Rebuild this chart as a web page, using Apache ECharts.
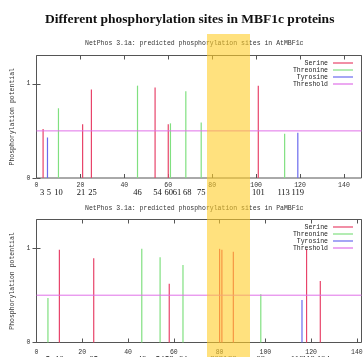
<!DOCTYPE html>
<html>
<head>
<meta charset="utf-8">
<script src="https://cdn.jsdelivr.net/npm/echarts@6/dist/echarts.min.js"></script>
<style>
  html, body { margin: 0; padding: 0; background: #fff; }
  #chart { width: 363px; height: 357px; }
</style>
</head>
<body>
<div id="chart"></div>
<script>
// AtMBF1c sites: [position, potential]
const serineAt = [[3, 0.52], [21, 0.57], [25, 0.94], [54, 0.96], [60, 0.57], [101, 0.98]];
const threonineAt = [[10, 0.74], [46, 0.98], [61, 0.58], [68, 0.92], [75, 0.59], [113, 0.47]];
const tyrosineAt = [[5, 0.43], [119, 0.48]];
// PaMBF1c sites
const serinePa = [[10, 0.98], [25, 0.89], [58, 0.62], [80, 0.99], [81, 0.98], [86, 0.96], [118, 0.99], [124, 0.65]];
const threoninePa = [[5, 0.47], [46, 0.99], [54, 0.90], [64, 0.82], [98, 0.51]];
const tyrosinePa = [[116, 0.45]];

const threshold = 0.5;
const lengthAt = 148;
const lengthPa = 142;
const yTicks = [0, 1];

const sitesOf = (...sets) => sets.flat().map(d => d[0]).sort((a, b) => a - b);
const sitesAt = sitesOf(serineAt, threonineAt, tyrosineAt);
const sitesPa = sitesOf(serinePa, threoninePa, tyrosinePa);

// label nudges in px so that close site numbers stay readable
const nudgeAt = { 3: -1, 5: 1.5, 21: -1.5, 25: 1, 54: 2.5, 60: 0.5, 61: 6.5, 68: 1.5, 113: -1 };
const nudgePa = { 80: -5, 81: 1, 86: -1, 116: -5, 118: 2, 124: 3 };

const chart = echarts.init(document.getElementById('chart'));

const mono = 'Liberation Mono';
const colors = { Serine: '#e8446a', Threonine: '#80e080', Tyrosine: '#6a6aee', Threshold: '#e070e8' };
const small = { fontFamily: mono, fontSize: 6.5, color: '#333' };

const siteLabel = nudges => {
  const rich = {};
  Object.keys(nudges).forEach(v => {
    const dx = nudges[v];
    rich['n' + v] = { padding: dx > 0 ? [0, 0, 0, 2 * dx] : [0, -2 * dx, 0, 0] };
  });
  return {
    rich,
    formatter: v => (nudges[v] !== undefined ? '{n' + v + '|' + v + '}' : String(v))
  };
};

const mainX = (grid, max, margin) => ({
  type: 'value', gridIndex: grid, min: 0, max, interval: 20, position: 'bottom',
  axisLine: { show: false, onZero: false },
  axisTick: { inside: true, length: 4, lineStyle: { color: '#555' } },
  axisLabel: { ...small, margin, showMaxLabel: false },
  splitLine: { show: false }
});
const siteX = (grid, max, sites, margin, nudges) => ({
  type: 'value', gridIndex: grid, min: 0, max, position: 'bottom',
  axisLine: { show: false, onZero: false },
  axisTick: { show: false },
  axisLabel: {
    customValues: sites, margin, fontFamily: 'Liberation Serif', fontSize: 8.5, color: '#111',
    ...siteLabel(nudges)
  },
  splitLine: { show: false }
});
const topX = (grid, max) => ({
  type: 'value', gridIndex: grid, min: 0, max, interval: 20, position: 'top',
  axisLine: { show: false, onZero: false },
  axisTick: { inside: true, length: 4, lineStyle: { color: '#555' } },
  axisLabel: { show: false },
  splitLine: { show: false }
});
const leftY = grid => ({
  type: 'value', gridIndex: grid, min: 0, max: 1.3, position: 'left',
  name: 'Phosphorylation potential', nameLocation: 'middle', nameGap: 19,
  nameTextStyle: { ...small },
  axisLine: { show: false },
  axisTick: { inside: true, length: 4, customValues: yTicks, lineStyle: { color: '#555' } },
  axisLabel: { ...small, margin: 6, customValues: yTicks },
  splitLine: { show: false }
});
const rightY = grid => ({
  type: 'value', gridIndex: grid, min: 0, max: 1.3, position: 'right',
  axisLine: { show: false },
  axisTick: { inside: true, length: 4, customValues: yTicks, lineStyle: { color: '#555' } },
  axisLabel: { show: false },
  splitLine: { show: false }
});

const bars = (name, data, xi, yi) => ({
  name, type: 'bar', data, xAxisIndex: xi, yAxisIndex: yi,
  barWidth: 1.2, barGap: '-100%', color: colors[name],
  itemStyle: { color: colors[name] }
});
const thresholdLine = (length, xi, yi) => ({
  name: 'Threshold', type: 'line', xAxisIndex: xi, yAxisIndex: yi,
  data: [[0, threshold], [length, threshold]],
  color: colors.Threshold, symbol: 'none', z: 3,
  lineStyle: { color: colors.Threshold, width: 1 }
});

const legendOf = top => ({
  orient: 'vertical', right: 10, top, padding: 0, icon: 'rect', itemWidth: 20, itemHeight: 1.2,
  itemGap: 0, align: 'right', selectedMode: false,
  textStyle: { ...small, color: '#222', padding: 0 },
  formatter: name => name.padStart(9, ' '),
  data: ['Serine', 'Threonine', 'Tyrosine', 'Threshold']
});

const option = {
  animation: false,
  backgroundColor: '#fff',
  title: [
    {
      text: 'Different phosphorylation sites in MBF1c proteins', left: 45, top: 13, padding: 0,
      textStyle: { fontFamily: 'Liberation Serif', fontWeight: 'bold', fontSize: 13.5, color: '#111' }
    },
    {
      text: 'NetPhos 3.1a: predicted phosphorylation sites in AtMBF1c', left: 85, top: 40, padding: 0,
      textStyle: { ...small, fontWeight: 'normal' }
    },
    {
      text: 'NetPhos 3.1a: predicted phosphorylation sites in PaMBF1c', left: 85, top: 205, padding: 0,
      textStyle: { ...small, fontWeight: 'normal' }
    }
  ],
  legend: [legendOf(59.5), legendOf(223.5)],
  grid: [
    { left: 36.5, right: 1.5, top: 55.5, height: 122.5, show: true, borderColor: '#555', borderWidth: 1, outerBoundsMode: 'none' },
    { left: 36.5, right: 1.5, top: 219.5, height: 123, show: true, borderColor: '#555', borderWidth: 1, outerBoundsMode: 'none' }
  ],
  xAxis: [
    mainX(0, lengthAt, 4),
    siteX(0, lengthAt, sitesAt, 10, nudgeAt),
    topX(0, lengthAt),
    mainX(1, lengthPa, 6),
    siteX(1, lengthPa, sitesPa, 13, nudgePa),
    topX(1, lengthPa)
  ],
  yAxis: [leftY(0), rightY(0), leftY(1), rightY(1)],
  series: [
    bars('Serine', serineAt, 0, 0),
    bars('Threonine', threonineAt, 0, 0),
    bars('Tyrosine', tyrosineAt, 0, 0),
    thresholdLine(lengthAt, 0, 0),
    bars('Serine', serinePa, 3, 2),
    bars('Threonine', threoninePa, 3, 2),
    bars('Tyrosine', tyrosinePa, 3, 2),
    thresholdLine(lengthPa, 3, 2)
  ],
  graphic: [
    {
      type: 'rect', z: 100, silent: true,
      shape: { x: 207, y: 34, width: 43, height: 330 },
      style: { fill: 'rgba(255, 205, 40, 0.6)' }
    }
  ]
};

chart.setOption(option, true);

window.addEventListener('resize', () => {
  chart.resize();
});
</script>
</body>
</html>
